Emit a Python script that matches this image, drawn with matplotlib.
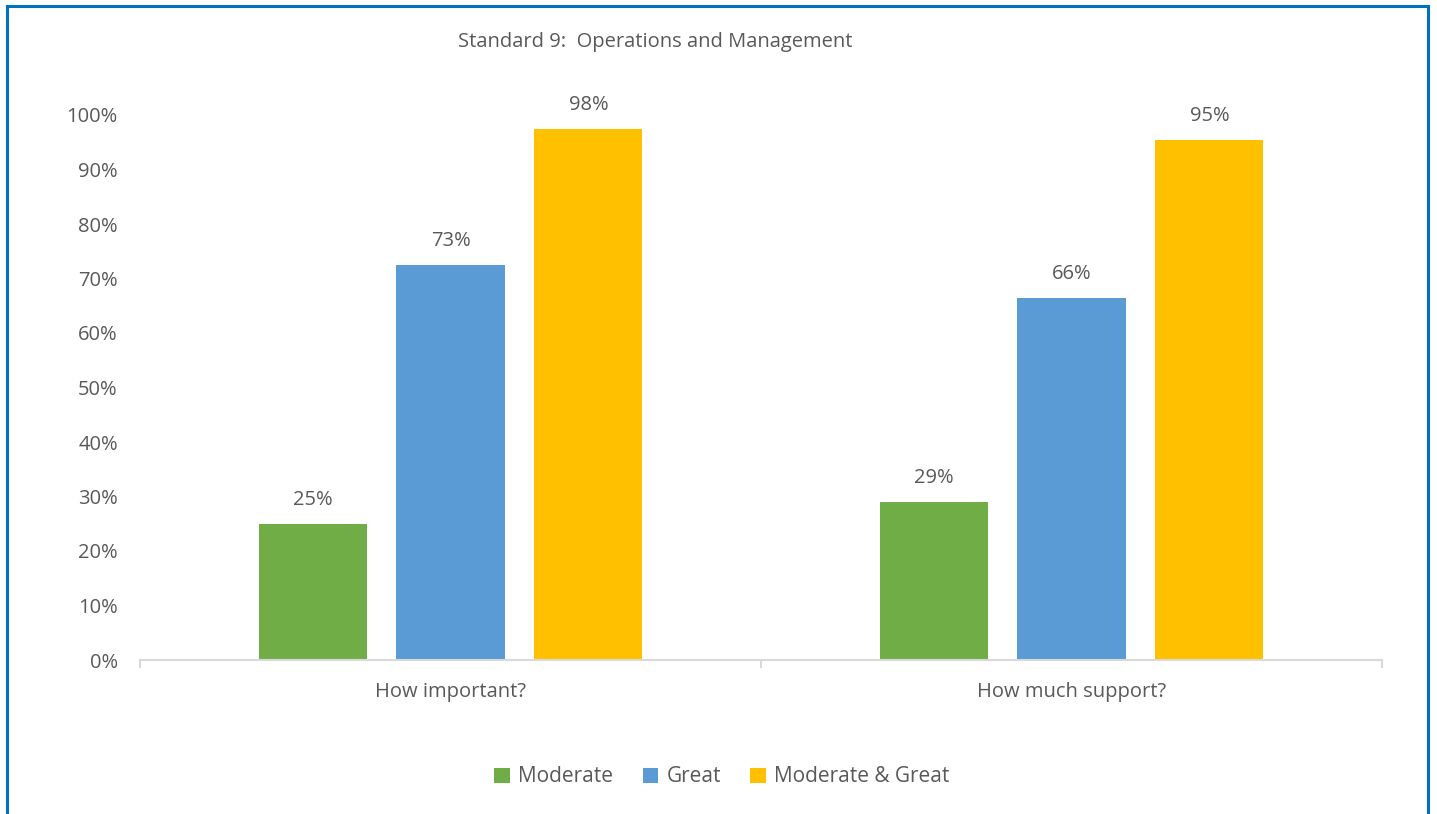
import matplotlib.pyplot as plt
import numpy as np

categories = ["How important?", "How much support?"]
series = ["Moderate", "Great", "Moderate & Great"]
moderate = [0.25, 0.29]
great = [0.725, 0.665]
both = [0.975, 0.955]
labels_mod = ["25%", "29%"]
labels_great = ["73%", "66%"]
labels_both = ["98%", "95%"]
colors = ["#70AD47", "#5B9BD5", "#FFC000"]

plt.rcParams['font.family'] = ['Open Sans', 'DejaVu Sans']
txt = "#595959"

fig = plt.figure(figsize=(14.37, 8.14), dpi=100)
ax = fig.add_axes([140/1437, 1-660/814, (1382-140)/1437, (660-115)/814])

x = np.arange(len(categories))
w = 0.174
step = 0.222
data = [moderate, great, both]
labs = [labels_mod, labels_great, labels_both]
for i, (vals, lb) in enumerate(zip(data, labs)):
    bars = ax.bar(x + (i - 1) * step, vals, w, color=colors[i], label=series[i])
    for b, t in zip(bars, lb):
        ax.text(b.get_x() + b.get_width() / 2, b.get_height() + 0.025, t,
                ha='center', va='bottom', fontsize=14.5, color=txt)

ax.set_xlim(-0.5, 1.5)
ax.set_ylim(0, 1.0)
ax.set_yticks(np.arange(0, 1.01, 0.1))
ax.set_yticklabels([f"{int(round(v*100))}%" for v in np.arange(0, 1.01, 0.1)])
ax.set_xticks(x)
ax.set_xticklabels(categories)
ax.tick_params(axis='x', length=0, pad=16, labelsize=14.5, labelcolor=txt)
ax.tick_params(axis='y', length=0, pad=16, labelsize=14.5, labelcolor=txt)
for t in [-0.5, 0.5, 1.5]:
    ax.plot([t, t], [0, -0.013], color="#D9D9D9", lw=1.5, clip_on=False)
for s in ['top', 'right', 'left']:
    ax.spines[s].set_visible(False)
ax.spines['bottom'].set_color("#D9D9D9")
ax.spines['bottom'].set_linewidth(1.5)

fig.text(655/1437, 1-42/814, "Standard 9:  Operations and Management",
         ha='center', va='center', fontsize=14.5, color=txt)

leg = fig.legend(loc='center', bbox_to_anchor=(722/1437, 1-777/814), ncol=3,
                 frameon=False, fontsize=15, handlelength=0.75, handleheight=0.75,
                 columnspacing=1.4, handletextpad=0.4)
for t in leg.get_texts():
    t.set_color(txt)

# blue frame (no bottom edge)
fig.add_artist(plt.Line2D([7/1437, 7/1437], [0, 1-6/814], color="#0070C0", lw=2.2))
fig.add_artist(plt.Line2D([1428/1437, 1428/1437], [0, 1-6/814], color="#0070C0", lw=2.2))
fig.add_artist(plt.Line2D([7/1437, 1428/1437], [1-6/814, 1-6/814], color="#0070C0", lw=2.2))

fig.savefig("out.png", dpi=100)
